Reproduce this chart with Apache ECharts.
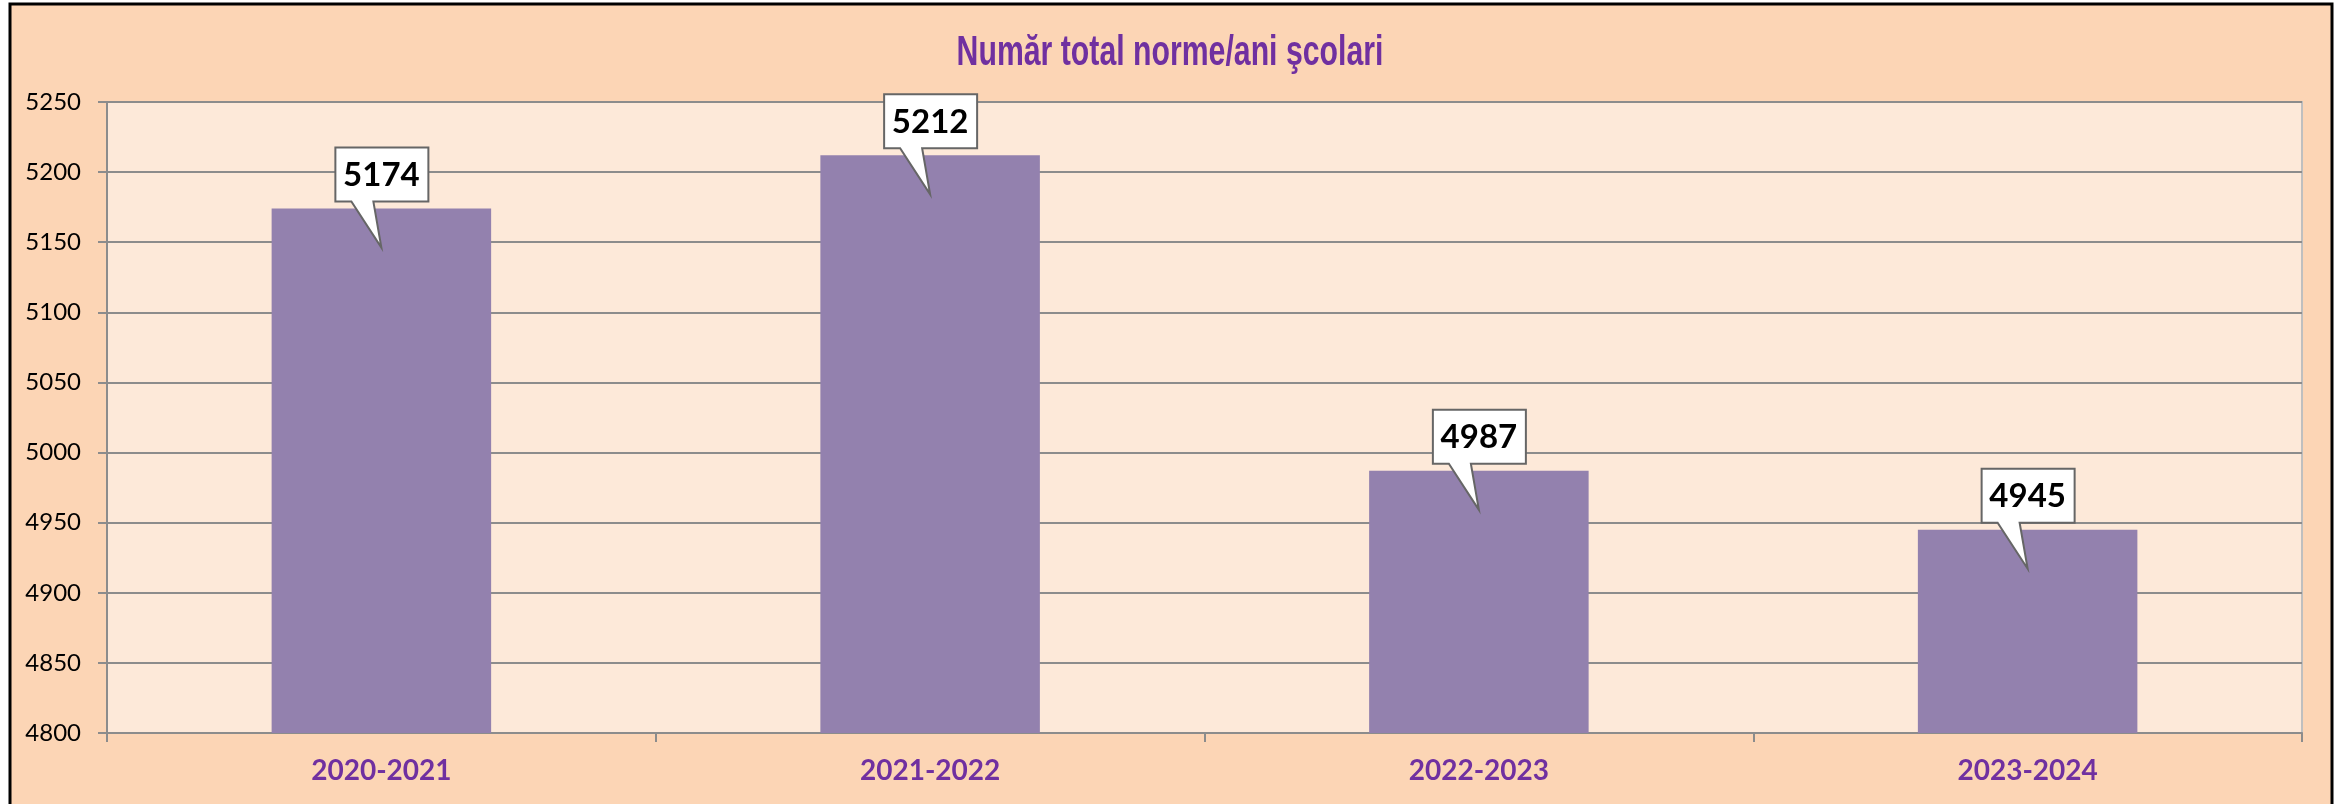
<!DOCTYPE html>
<html>
<head>
<meta charset="utf-8">
<script src="https://cdn.jsdelivr.net/npm/echarts@6/dist/echarts.min.js"></script>
<style>
  html, body { margin: 0; padding: 0; background: #fff; }
  #chart { width: 2338px; height: 804px; }
</style>
</head>
<body>
<div id="chart"></div>
<script>
// data
const categories = ['2020-2021', '2021-2022', '2022-2023', '2023-2024'];
const values = [5174, 5212, 4987, 4945];
const yMin = 4800;
const yMax = 5250;
const yStep = 50;
const titleText = 'Număr total norme/ani şcolari';

const chart = echarts.init(document.getElementById('chart'));

// callout box with a pointer tail, placed from the bar top via the axis scale
function renderCallout(params, api) {
  const p = api.coord([api.value(0), api.value(1)]);
  const cx = p[0];
  const top = p[1];
  const b = top - 7;
  const t = b - 54;
  const l = cx - 46;
  const r = cx + 47;
  const tip = top + 39;
  return {
    type: 'group',
    children: [
      {
        type: 'polygon',
        shape: {
          points: [[l, t], [r, t], [r, b], [cx - 8, b], [cx, tip], [cx - 30, b], [l, b]]
        },
        style: { fill: '#fff', stroke: '#666', lineWidth: 2 }
      },
      {
        type: 'text',
        style: {
          x: cx, y: (t + b) / 2 + 1,
          text: String(api.value(1)),
          align: 'center', verticalAlign: 'middle',
          font: 'bold 33px Lato, "Open Sans", sans-serif',
          fill: '#000'
        }
      }
    ]
  };
}

const option = {
  animation: false,
  backgroundColor: '#fff',
  graphic: [
    {
      type: 'rect',
      z: -10,
      shape: { x: 10, y: 4, width: 2322, height: 830 },
      style: { fill: '#FCD5B5', stroke: '#000', lineWidth: 3 }
    },
    {
      // narrow bold title, no condensed font installed so squeeze it
      type: 'text',
      x: 1170,
      y: 53,
      scaleX: 0.72,
      style: {
        text: titleText,
        align: 'center',
        verticalAlign: 'middle',
        font: 'bold 42px "Liberation Sans", Arial, sans-serif',
        fill: '#7030A0'
      }
    }
  ],
  grid: {
    left: 107, right: 36, top: 102, bottom: 71,
    show: true,
    backgroundColor: '#FDE9D9',
    borderColor: '#BFBFBF',
    borderWidth: 2
  },
  xAxis: {
    type: 'category',
    data: categories,
    axisLine: { lineStyle: { color: '#8C8C8C', width: 2 } },
    axisTick: { show: true, length: 9, lineStyle: { color: '#8C8C8C', width: 2 } },
    axisLabel: {
      margin: 24,
      color: '#7030A0',
      fontSize: 28,
      fontWeight: 'bold',
      fontFamily: 'Lato, "Open Sans", sans-serif'
    }
  },
  yAxis: {
    type: 'value',
    min: yMin,
    max: yMax,
    interval: yStep,
    axisLine: { show: true, lineStyle: { color: '#8C8C8C', width: 2 } },
    axisTick: { show: true, length: 9, lineStyle: { color: '#8C8C8C', width: 2 } },
    splitLine: { lineStyle: { color: '#8C8C8C', width: 2 } },
    axisLabel: {
      margin: 26,
      color: '#000',
      fontSize: 24,
      fontFamily: 'Lato, "Open Sans", sans-serif',
      formatter: v => String(v)
    }
  },
  series: [
    {
      type: 'bar',
      data: values,
      barWidth: '40%',
      itemStyle: { color: '#9381AE' }
    },
    {
      type: 'custom',
      data: values.map((v, i) => [i, v]),
      renderItem: renderCallout,
      clip: false,
      z: 5
    }
  ]
};

chart.setOption(option);
</script>
</body>
</html>
